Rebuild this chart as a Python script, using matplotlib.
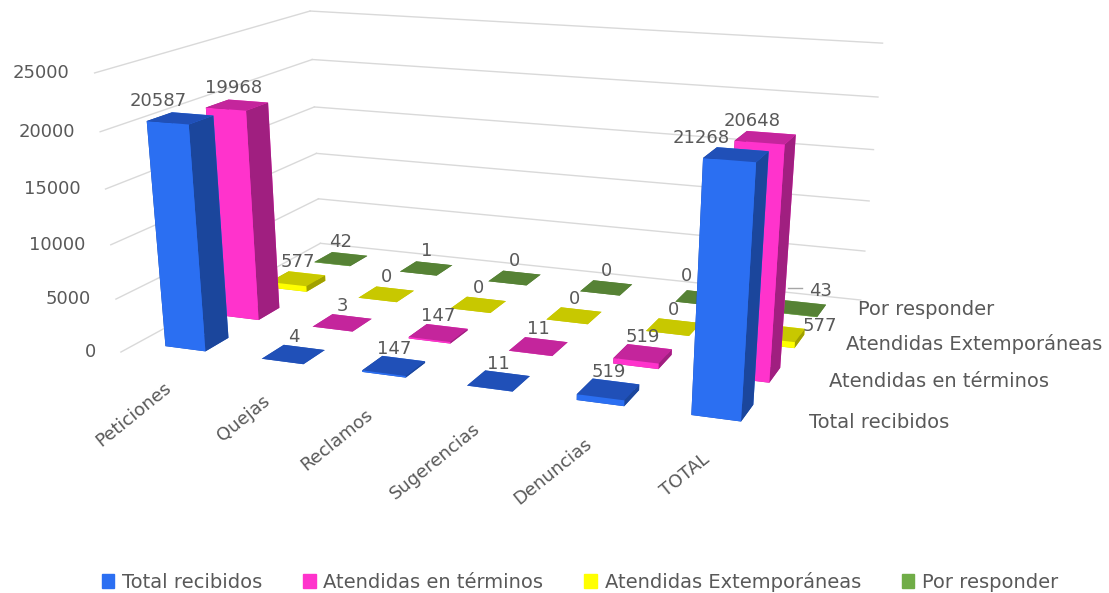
#!/usr/bin/env python

import numpy as np
import matplotlib
matplotlib.use('Agg')
import matplotlib.pyplot as plt
from matplotlib.lines import Line2D
from matplotlib.patches import Patch
from mpl_toolkits.mplot3d import proj3d

categories = ['Peticiones', 'Quejas', 'Reclamos', 'Sugerencias', 'Denuncias', 'TOTAL']
seriesNames = ['Total recibidos', 'Atendidas en términos', 'Atendidas Extemporáneas', 'Por responder']
totalRecibidos = [20587, 4, 147, 11, 519, 21268]
atendidasTerminos = [19968, 3, 147, 11, 519, 20648]
atendidasExtemporaneas = [577, 0, 0, 0, 0, 577]
porResponder = [42, 1, 0, 0, 0, 43]
zTicks = [0, 5000, 10000, 15000, 20000, 25000]

allSeries = [totalRecibidos, atendidasTerminos, atendidasExtemporaneas, porResponder]

# front, side and top colours for each series
frontColors = ['#2b6ff2', '#ff33cc', '#ffff00', '#70ad47']
sideColors = ['#1b469c', '#a01f80', '#a0a000', '#46702c']
topColors = ['#2050b8', '#c4259c', '#c8c800', '#568235']

# labels that were moved by hand in the original chart, (series, category): pixels
labelShift = {(0, 0): (-22, 0), (1, 0): (-4, 0), (0, 5): (-35, 0), (1, 5): (-13, 0),
              (3, 5): (20, 0), (2, 5): (42, 10), (3, 4): (-15, -5)}
seriesDx = [27, 21, 15, 7]
seriesDy = [5, 2, -1, -5]

textColor = '#595959'
gridColor = '#d9d9d9'
barW = 0.42
barD = 0.42
fontSize = 13
nameSize = 14

fig = plt.figure(figsize=(11.09, 5.93), dpi=100)
# the reference is stretched sideways, so keep the 3d axes non square
ax = fig.add_axes([-0.056, -0.068, 1, 853/593.], projection='3d')
ax.apply_aspect = lambda position=None: None
ax.set_proj_type('persp', focal_length=0.30)
ax.view_init(elev=18, azim=-69)
ax.set_box_aspect((1.10, 0.74, 0.62), zoom=0.755)
ax.set_xlim(0, 6, view_margin=0)
ax.set_ylim(0, 4, view_margin=0)
ax.set_zlim(0, 25000, view_margin=0)
ax.set_axis_off()
M = ax.get_proj()

def label(x, y, z, s, dx=0, dy=0, size=fontSize, **kw):
  # text placed in pixels around a projected 3d point
  px, py, _ = proj3d.proj_transform(x, y, z, M)
  ax.annotate(s, (px, py), xytext=(dx*0.72, -dy*0.72), textcoords='offset points', color=textColor,
              fontsize=size, zorder=100, annotation_clip=False, **kw)

for t in zTicks:
  ax.plot([0, 0], [0, 4], [t, t], color=gridColor, lw=1)
  ax.plot([0, 6], [4, 4], [t, t], color=gridColor, lw=1)
  label(0, 0, t, str(t), dx=-25, ha='right', va='center')

xs, ys, heights, colors = [], [], [], []
for j, values in enumerate(allSeries):
  for i, v in enumerate(values):
    xs.append(i + 0.5 - barW/2)
    ys.append(j + 0.5 - barD/2)
    heights.append(v)
    # -z, +z, -y, +y, -x, +x
    colors += [topColors[j], topColors[j], frontColors[j], frontColors[j], sideColors[j], sideColors[j]]
    shiftX, shiftY = labelShift.get((j, i), (0, 0))
    label(i + 0.5, j + 0.5, v, str(v), dx=shiftX, dy=shiftY - 8, ha='center', va='bottom')

ax.bar3d(xs, ys, np.zeros(len(xs)), barW, barD, heights, color=colors, shade=False, edgecolor='none')

for i, name in enumerate(categories):
  label(i + 0.5, 0, 0, name, dx=-5, dy=20, rotation=39, rotation_mode='anchor', ha='right', va='top')

for j, name in enumerate(seriesNames):
  label(6, j + 0.5, 0, name, dx=seriesDx[j], dy=seriesDy[j], size=nameSize, ha='left', va='center')

# leader line of the 43 label
fig.add_artist(Line2D([788/1109., 802/1109.], [1 - 288/593., 1 - 288/593.], color='#a6a6a6', lw=1))

handles = [Patch(color=c, label=n) for c, n in zip(frontColors, seriesNames)]
fig.legend(handles=handles, loc='lower center', bbox_to_anchor=(0.523, -0.027), ncol=4, frameon=False,
           fontsize=nameSize, labelcolor=textColor, handlelength=0.65, handleheight=0.7,
           handletextpad=0.4, columnspacing=2.1)

plt.savefig('out.png', dpi=100)
